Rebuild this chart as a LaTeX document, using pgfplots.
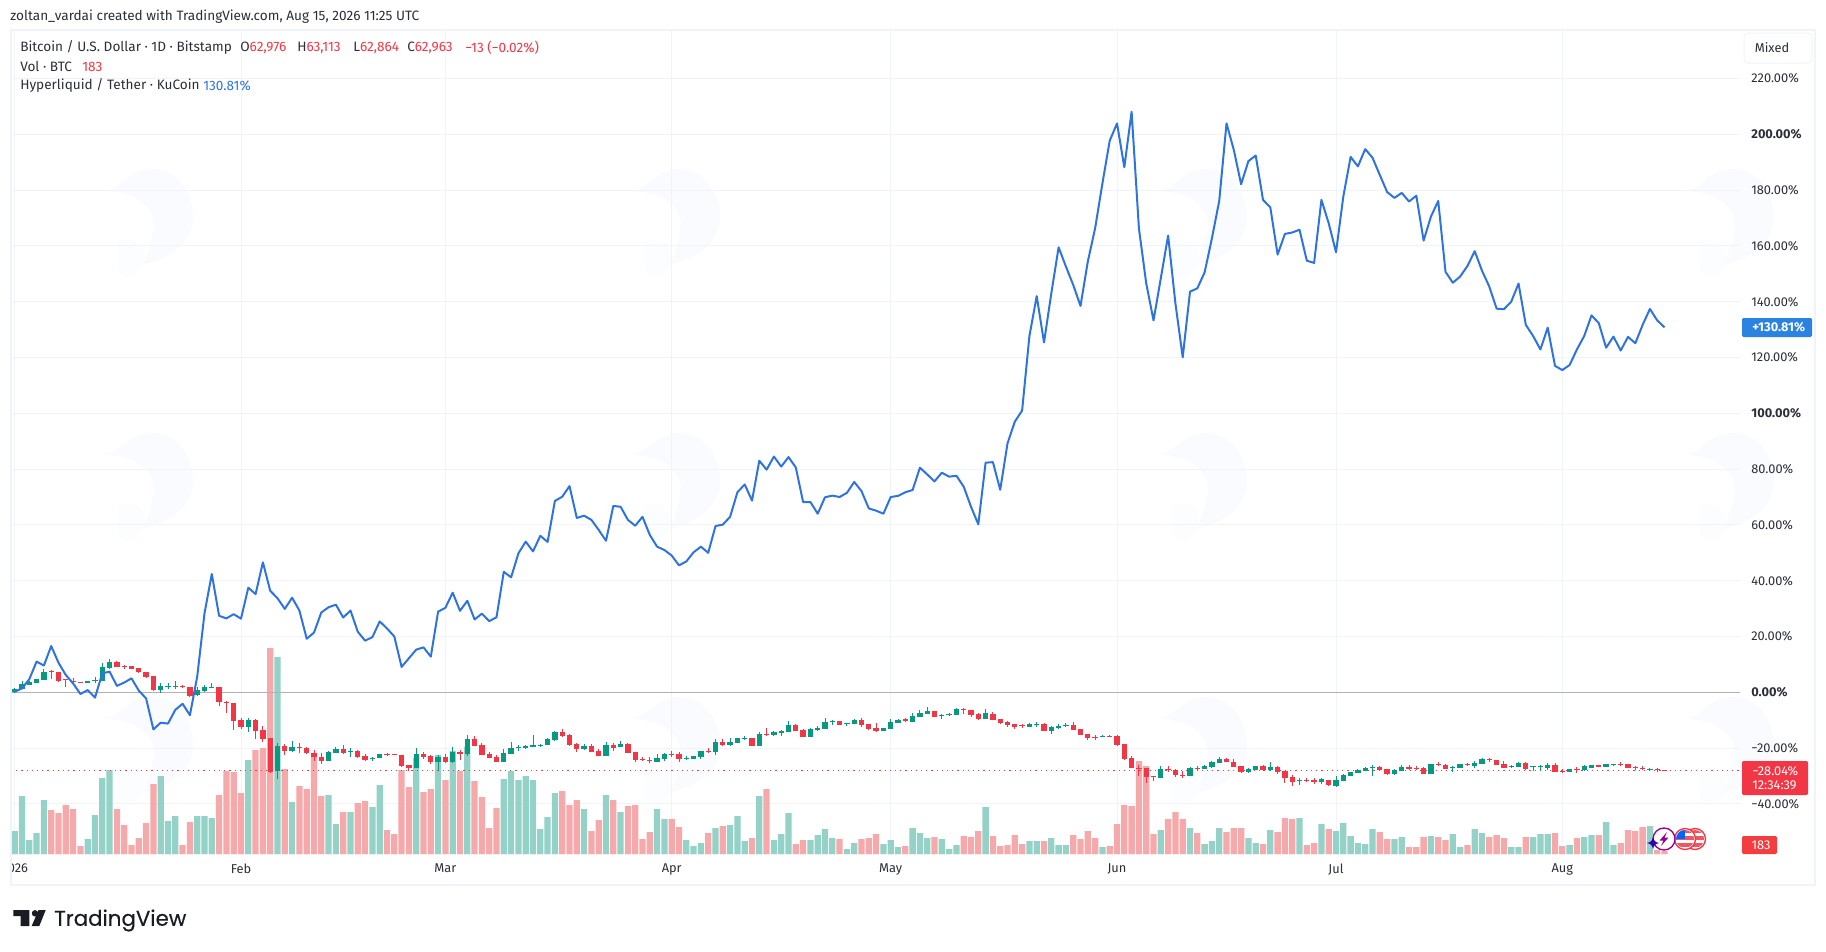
\documentclass[border=0pt]{standalone}
\usepackage{fontspec}
\setmainfont{Fira Sans}
\newfontfamily\logofont[FakeBold=0.3]{Poppins}
\usepackage{pgfplots}
\usepackage{pgfplotstable}
\pgfplotsset{compat=1.18}

\definecolor{up}{HTML}{089981}
\definecolor{down}{HTML}{F23645}
\definecolor{volup}{HTML}{94D1C7}
\definecolor{voldown}{HTML}{F6A9AB}
\definecolor{hype}{HTML}{2F74DE}
\definecolor{gridc}{HTML}{F0F3FA}
\definecolor{zerol}{HTML}{B0B2B8}
\definecolor{txt}{HTML}{2A2E39}
\definecolor{wm}{HTML}{FAFBFE}
\definecolor{wmb}{HTML}{FCFDFF}

% day 0 = 1 Jan 2026, percent change against the first open, volume in BTC
\pgfplotstableread{
d o h l c v
0 0.0 1.4 -0.1 1.3 1380
1 1.2 3.9 1.1 2.9 3480
2 2.7 4.1 2.5 3.7 840
3 3.5 4.7 3.5 4.7 1260
4 4.5 8.4 4.5 7.2 3240
5 7.8 8.0 4.7 7.5 2640
6 7.2 7.2 3.8 4.2 2460
7 4.7 4.7 2.0 4.4 2940
8 4.1 5.0 2.9 3.6 2700
9 3.6 3.6 3.5 3.5 480
10 3.2 4.1 3.2 4.1 900
11 4.1 5.6 3.2 4.4 2340
12 4.2 10.4 4.2 9.0 4560
13 8.7 11.8 8.5 11.0 5040
14 10.9 11.1 9.0 9.2 2700
15 9.6 9.8 8.2 9.3 1740
16 9.3 9.3 8.4 8.4 540
17 8.7 8.7 6.9 7.2 960
18 7.2 7.2 5.3 5.6 1860
19 5.9 5.9 0.6 1.0 4200
20 0.8 3.5 -0.1 2.3 4680
21 2.2 3.5 1.2 2.4 1980
22 2.2 4.2 1.3 2.4 2280
23 2.3 2.6 1.6 1.8 540
24 1.8 1.8 -1.6 -1.2 1920
25 -1.1 2.0 -1.2 1.0 2280
26 0.6 2.6 0.2 1.9 2280
27 1.8 3.2 1.8 2.0 2160
28 1.8 1.8 -4.8 -3.3 3540
29 -3.3 -3.1 -7.3 -3.8 4980
30 -3.9 -3.9 -13.5 -10.2 4920
31 -10.0 -9.3 -13.3 -12.4 3660
32 -12.3 -9.3 -14.3 -10.0 5640
33 -9.9 -9.7 -16.6 -13.7 6240
34 -13.6 -12.2 -17.7 -16.7 6360
35 -16.5 -16.5 -29.0 -28.6 12360
36 -28.2 -18.3 -31.2 -19.4 11820
37 -19.2 -18.5 -22.6 -20.9 5100
38 -21.0 -17.6 -21.3 -19.7 3120
39 -19.7 -18.3 -21.6 -20.0 4080
40 -20.1 -19.6 -22.2 -21.7 3900
41 -21.6 -20.8 -24.7 -23.3 5820
42 -23.3 -21.7 -25.6 -24.6 3480
43 -24.5 -20.9 -24.5 -21.5 3540
44 -21.6 -19.5 -21.6 -20.4 1800
45 -20.4 -19.0 -22.0 -21.7 2520
46 -21.3 -20.1 -23.1 -21.0 2520
47 -21.2 -20.8 -23.5 -23.2 3060
48 -22.9 -22.1 -24.5 -24.3 3180
49 -24.0 -23.2 -24.7 -23.5 2820
50 -23.7 -22.2 -23.7 -22.2 4140
51 -22.1 -21.6 -22.8 -22.3 1440
52 -22.2 -22.2 -22.6 -22.6 1200
53 -22.6 -22.6 -26.6 -26.3 5040
54 -26.1 -26.1 -28.3 -27.1 4020
55 -27.1 -20.1 -27.1 -22.2 5760
56 -22.1 -21.5 -23.8 -23.2 3720
57 -22.7 -22.3 -25.7 -25.0 3900
58 -24.9 -22.6 -27.8 -23.2 5940
59 -23.3 -22.1 -25.2 -25.0 4440
60 -25.1 -19.7 -25.5 -21.3 6180
61 -21.3 -20.7 -24.3 -22.1 4980
62 -22.1 -15.4 -22.8 -16.7 6440
63 -16.8 -15.7 -19.2 -19.1 4380
64 -18.9 -18.3 -22.5 -22.5 3420
65 -22.1 -21.4 -23.5 -23.5 1560
66 -23.3 -22.3 -25.0 -25.0 2760
67 -25.0 -20.4 -25.0 -21.7 4500
68 -22.1 -17.8 -22.1 -20.0 4980
69 -20.0 -18.8 -20.9 -19.7 4440
70 -19.8 -18.9 -20.4 -19.4 4680
71 -19.6 -15.3 -19.6 -19.0 4440
72 -19.0 -18.5 -19.7 -18.8 1500
73 -18.8 -16.4 -18.8 -16.7 2220
74 -17.2 -13.9 -17.6 -14.2 3660
75 -14.2 -13.1 -16.0 -15.7 3780
76 -15.3 -14.9 -19.2 -18.9 2940
77 -18.5 -18.3 -21.4 -20.3 3240
78 -20.3 -18.6 -20.7 -19.2 2700
79 -19.2 -18.6 -21.4 -21.3 1380
80 -20.9 -20.4 -22.8 -22.7 2040
81 -22.7 -17.8 -22.7 -19.0 3540
82 -18.9 -18.2 -20.9 -19.8 3240
83 -19.5 -17.4 -19.6 -18.6 2520
84 -18.5 -18.0 -21.9 -21.7 2880
85 -21.5 -21.5 -24.9 -24.3 2940
86 -23.8 -23.3 -24.6 -24.0 900
87 -24.1 -23.3 -25.5 -24.7 1320
88 -24.9 -22.2 -24.9 -23.5 2700
89 -23.9 -21.7 -24.5 -22.1 2100
90 -22.0 -20.9 -23.2 -22.3 2100
91 -22.1 -21.4 -24.9 -23.8 1620
92 -23.7 -22.9 -24.3 -23.4 840
93 -23.8 -22.9 -23.8 -22.9 480
94 -23.2 -21.2 -23.8 -21.2 660
95 -20.9 -19.8 -21.7 -21.2 1260
96 -21.4 -16.8 -22.3 -17.8 1560
97 -17.7 -16.8 -19.1 -18.9 1680
98 -18.9 -16.5 -19.2 -17.9 1740
99 -18.0 -16.4 -18.0 -16.4 2280
100 -16.5 -15.7 -17.1 -16.3 780
101 -16.5 -16.5 -19.1 -19.1 960
102 -19.1 -14.2 -19.1 -14.9 3480
103 -14.9 -12.9 -15.5 -15.1 3900
104 -15.2 -13.7 -15.7 -14.2 840
105 -14.6 -13.5 -15.8 -13.9 1200
106 -14.2 -10.4 -14.2 -11.7 2460
107 -11.7 -11.4 -13.7 -13.7 600
108 -13.5 -13.1 -15.9 -15.9 840
109 -15.9 -12.8 -15.9 -13.3 840
110 -13.4 -12.2 -14.0 -12.8 1140
111 -13.0 -9.2 -13.0 -10.6 1500
112 -10.3 -9.9 -11.8 -10.2 960
113 -10.4 -10.4 -11.6 -11.6 900
114 -11.4 -11.1 -11.9 -11.1 300
115 -11.2 -9.6 -11.2 -9.9 660
116 -9.8 -9.2 -12.3 -11.6 900
117 -11.4 -11.4 -13.4 -13.1 960
118 -12.9 -11.1 -14.1 -13.7 1200
119 -13.7 -12.8 -13.7 -12.8 600
120 -13.0 -9.6 -13.0 -10.6 840
121 -10.9 -9.7 -11.1 -9.9 420
122 -9.7 -9.1 -10.5 -10.2 480
123 -10.5 -7.5 -10.5 -8.5 1560
124 -8.7 -6.3 -8.7 -7.4 1260
125 -7.6 -5.4 -7.6 -6.7 960
126 -6.8 -6.8 -9.0 -8.7 1020
127 -8.2 -7.9 -9.4 -8.0 900
128 -8.2 -7.4 -8.5 -7.6 300
129 -8.0 -5.6 -8.0 -6.0 540
130 -6.0 -5.6 -7.8 -6.5 1080
131 -6.5 -6.5 -8.7 -8.1 1020
132 -7.8 -7.5 -9.9 -9.6 1380
133 -9.4 -6.0 -9.4 -7.5 2820
134 -7.6 -6.9 -9.9 -9.9 1080
135 -9.7 -9.7 -11.2 -11.0 480
136 -10.6 -10.2 -12.3 -11.7 540
137 -11.4 -11.4 -13.1 -12.5 1140
138 -11.8 -11.4 -12.8 -12.2 600
139 -12.3 -11.0 -12.4 -11.4 780
140 -11.5 -10.6 -12.3 -11.2 780
141 -11.4 -11.0 -13.9 -13.7 780
142 -13.9 -11.9 -14.8 -12.5 960
143 -12.7 -11.5 -13.1 -12.1 540
144 -11.8 -10.9 -12.3 -11.6 540
145 -11.7 -10.8 -13.5 -13.4 1140
146 -13.3 -13.3 -15.2 -15.2 900
147 -15.1 -15.1 -17.1 -16.5 1380
148 -16.0 -15.2 -17.0 -16.1 960
149 -16.1 -15.3 -16.1 -15.7 420
150 -15.7 -15.3 -15.9 -15.9 480
151 -15.8 -15.4 -19.2 -18.8 1800
152 -18.5 -18.5 -24.3 -23.8 2940
153 -23.7 -22.9 -27.0 -27.0 2880
154 -27.0 -26.1 -29.9 -27.2 5580
155 -27.1 -27.1 -32.4 -30.2 5280
156 -29.9 -29.9 -31.7 -30.1 1200
157 -30.6 -26.4 -30.6 -27.6 1440
158 -27.5 -26.5 -28.6 -27.7 2100
159 -27.8 -27.6 -30.2 -29.6 2520
160 -29.5 -28.1 -30.6 -29.8 2100
161 -29.9 -26.8 -29.9 -27.2 1560
162 -27.1 -26.4 -28.3 -27.5 1260
163 -27.4 -26.1 -27.4 -26.4 600
164 -26.8 -24.6 -27.0 -25.0 780
165 -25.2 -23.2 -25.2 -24.0 1560
166 -24.0 -23.5 -25.1 -25.1 1320
167 -25.0 -23.9 -26.6 -26.6 1560
168 -26.4 -26.4 -28.8 -28.4 1560
169 -28.4 -27.1 -28.9 -27.5 960
170 -27.8 -26.5 -27.8 -26.5 660
171 -26.4 -26.2 -28.1 -27.7 600
172 -27.7 -24.9 -28.1 -26.9 1440
173 -26.8 -26.4 -29.2 -28.4 1320
174 -28.1 -28.1 -32.4 -30.6 2160
175 -30.5 -29.5 -33.6 -32.0 2100
176 -31.5 -30.7 -33.2 -31.3 2160
177 -31.3 -30.6 -32.0 -31.5 540
178 -31.3 -30.8 -33.0 -32.3 660
179 -32.3 -30.8 -33.0 -31.2 1800
180 -31.3 -31.3 -33.6 -33.3 1500
181 -33.6 -30.1 -33.8 -31.5 1380
182 -31.7 -29.2 -31.7 -29.6 1860
183 -30.0 -28.7 -30.0 -28.7 1080
184 -28.8 -27.6 -29.0 -27.8 660
185 -28.1 -26.9 -28.3 -27.1 600
186 -27.2 -25.9 -30.0 -26.8 1500
187 -26.8 -26.4 -28.0 -27.7 1320
188 -27.6 -27.6 -29.5 -29.3 900
189 -29.3 -27.6 -29.6 -27.8 900
190 -28.1 -26.2 -28.1 -26.6 1020
191 -26.6 -25.9 -27.7 -27.5 420
192 -27.0 -26.5 -28.0 -27.2 420
193 -27.1 -26.6 -29.3 -29.3 1020
194 -29.3 -25.7 -29.3 -25.7 1080
195 -25.6 -24.9 -26.4 -25.8 1020
196 -25.9 -25.6 -27.6 -27.5 840
197 -26.9 -26.5 -28.6 -26.6 1200
198 -27.0 -25.7 -27.0 -25.7 420
199 -25.8 -25.5 -26.4 -25.9 540
200 -26.4 -24.5 -27.1 -25.2 1500
201 -25.6 -23.5 -25.6 -23.8 1260
202 -23.9 -23.5 -25.0 -24.4 1020
203 -24.3 -24.3 -26.1 -26.1 1140
204 -25.8 -24.6 -27.2 -27.1 960
205 -26.8 -26.2 -27.2 -26.5 420
206 -26.6 -25.0 -26.9 -25.2 420
207 -25.2 -25.0 -27.7 -27.5 1020
208 -26.8 -26.4 -28.1 -26.5 1020
209 -26.8 -26.2 -28.0 -26.5 1200
210 -27.2 -25.5 -27.7 -26.1 1200
211 -26.2 -25.3 -28.4 -28.4 1260
212 -28.1 -27.6 -28.9 -28.3 480
213 -28.6 -27.4 -28.6 -27.4 540
214 -27.4 -26.9 -28.9 -27.6 960
215 -27.8 -26.1 -28.1 -26.5 1020
216 -27.0 -25.9 -27.0 -25.9 1140
217 -26.1 -26.1 -26.6 -26.6 1140
218 -26.8 -25.7 -26.8 -25.7 1920
219 -26.1 -25.6 -26.4 -25.8 540
220 -25.8 -25.0 -26.4 -26.1 660
221 -25.7 -25.7 -27.1 -27.1 1440
222 -26.8 -26.4 -28.0 -27.2 1380
223 -27.0 -26.4 -28.0 -27.2 1620
224 -27.7 -27.0 -28.2 -27.5 1680
225 -27.5 -27.2 -28.4 -28.0 240
226 -27.9 -27.8 -28.1 -28.04 183
}\candles

% Hyperliquid / Tether, percent change
\pgfplotstableread{
d p
0 0.2
1 1.4
2 4.7
3 11.0
4 9.6
5 16.6
6 10.6
7 6.2
8 3.2
9 -0.6
10 0.8
11 -1.9
12 6.8
13 7.4
14 2.3
15 3.5
16 5.0
17 0.6
18 -2.2
19 -13.3
20 -10.9
21 -11.2
22 -6.3
23 -4.1
24 -8.2
25 5.6
26 28.3
27 42.4
28 27.4
29 26.5
30 28.0
31 26.4
32 37.5
33 35.2
34 46.6
35 36.4
36 33.7
37 29.9
38 33.9
39 29.3
40 19.2
41 21.4
42 28.6
43 30.5
44 31.4
45 26.8
46 29.3
47 21.7
48 18.5
49 19.8
50 25.4
51 22.9
52 20.0
53 9.1
54 12.2
55 15.3
56 16.1
57 12.8
58 28.9
59 30.3
60 35.7
61 29.2
62 32.8
63 26.1
64 28.2
65 25.5
66 26.9
67 43.2
68 41.2
69 49.8
70 54.0
71 50.5
72 56.1
73 53.9
74 68.6
75 70.1
76 73.9
77 62.5
78 63.3
79 61.8
80 58.2
81 54.3
82 66.8
83 66.5
84 61.8
85 59.7
86 62.9
87 56.4
88 52.2
89 51.0
90 49.0
91 45.5
92 46.9
93 50.2
94 52.2
95 50.0
96 59.6
97 60.1
98 62.9
99 71.7
100 74.5
101 68.7
102 83.0
103 79.8
104 84.5
105 80.9
106 84.3
107 80.6
108 68.2
109 68.2
110 64.0
111 69.9
112 70.5
113 70.0
114 71.5
115 75.4
116 72.1
117 65.9
118 65.1
119 64.0
120 70.0
121 70.4
122 71.7
123 72.5
124 80.5
125 78.1
126 75.6
127 78.7
128 77.3
129 77.6
130 73.7
131 66.5
132 60.2
133 82.3
134 82.5
135 72.6
136 89.2
137 97.0
138 101
139 127.7
140 142.0
141 125.4
142 143
143 159.5
144 152.6
145 146.0
146 138.5
147 154.4
148 166.3
149 182.4
150 197.7
151 203.9
152 188.2
153 208.1
154 166.3
155 146.6
156 133.3
157 148.4
158 163.7
159 139.4
160 120.1
161 143.6
162 144.8
163 150.5
164 162.7
165 176.1
166 203.9
167 194.4
168 182.1
169 190.4
170 192.4
171 176.5
172 173.8
173 156.9
174 164.3
175 164.8
176 165.8
177 154.7
178 153.9
179 176.5
180 168.1
181 157.7
182 177.7
183 191.9
184 188.5
185 194.7
186 191.6
187 185.4
188 179.3
189 177.2
190 179.0
191 175.9
192 178.0
193 161.9
194 170.5
195 176.1
196 150.7
197 146.8
198 149.0
199 152.8
200 158.1
201 151.1
202 145.4
203 137.5
204 137.3
205 140.0
206 146.5
207 131.7
208 127.7
209 122.9
210 130.7
211 117.0
212 115.5
213 117.3
214 122.9
215 127.7
216 135.1
217 132.3
218 123.5
219 127.5
220 122.5
221 127.4
222 125.1
223 131.7
224 137.4
225 133.3
226 130.81
}\hype

\pgfplotsset{
  pane/.style={
    at={(8.25pt,-640.5pt)}, anchor=south west,
    scale only axis, width=1296.75pt, height=618pt,
    xmin=-0.507, xmax=236.34
  },
  candle/.style 2 args={
    draw=none, mark=none, forget plot,
    error bars/y dir=plus, error bars/y explicit, error bars/error mark=none,
    error bars/error bar style={line width=#1, draw=#2}
  }
}
\newcommand{\lgd}{\fontsize{10.2pt}{12pt}\selectfont}

\begin{document}
\begin{tikzpicture}[font=\fontsize{9.6pt}{11pt}\selectfont, text=txt]
\path[use as bounding box] (0,0) rectangle (1369.5pt,-713.25pt);

% watermarks behind everything
\begin{scope}[x=0.75pt,y=-0.75pt]
\foreach \cx in {148,675,1202,1729} \foreach \cy in {213,477,741} {
  \begin{scope}[shift={(\cx,\cy)}]
    \fill[wm] (-45,-22) .. controls (-25,-24) and (-22,-44) .. (5,-44)
      .. controls (32,-44) and (47,-15) .. (45,8)
      .. controls (42,35) and (15,47) .. (-5,52) .. controls (3,30) and (8,15) .. (5,5)
      .. controls (0,-12) and (-20,-22) .. (-45,-22) -- cycle;
    \fill[wmb] (-30,28) .. controls (-5,22) and (0,40) .. (-5,52)
      .. controls (-15,70) and (-28,65) .. (-30,55) -- cycle;
  \end{scope}
}
\end{scope}

% grid and scales
\begin{axis}[pane,
  ymin=-57.96, ymax=237.38,
  axis line style={draw=none},
  major tick length=0pt,
  xtick={0,31,59,90,120,151,181,212},
  xticklabels={2026,Feb,Mar,Apr,May,Jun,Jul,Aug},
  xticklabel style={font=\fontsize{9.6pt}{11pt}\selectfont, text=txt, yshift=-4pt},
  ytick={-40,-20,0,20,40,60,80,100,120,140,160,180,200,220},
  yticklabels={−40.00\%,−20.00\%,\textbf{0.00\%},20.00\%,40.00\%,60.00\%,80.00\%,\textbf{100.00\%},120.00\%,140.00\%,160.00\%,180.00\%,\textbf{200.00\%},220.00\%},
  yticklabel pos=right,
  yticklabel style={font=\fontsize{9.6pt}{11pt}\selectfont, text=txt, anchor=west, xshift=5pt},
  grid=major, grid style={color=gridc, line width=0.75pt}
]
\end{axis}

% volume
\begin{axis}[pane, hide axis, ymin=0, ymax=49440,
  ybar, bar width=4.7pt, bar shift=0pt]
\addplot[fill=volup, draw=none, forget plot] table[x=d, y expr={ifthenelse(\thisrow{c}>=\thisrow{o},\thisrow{v},0)}] {\candles};
\addplot[fill=voldown, draw=none, forget plot] table[x=d, y expr={ifthenelse(\thisrow{c}<\thisrow{o},\thisrow{v},0)}] {\candles};
\end{axis}

% price and the comparison line
\begin{axis}[pane, hide axis, ymin=-57.96, ymax=237.38]
\addplot[zerol, line width=1.2pt, forget plot] coordinates {(-0.507,0) (236.34,0)};
\addplot[down, line width=0.8pt, dash pattern=on 0.9pt off 3pt, forget plot] coordinates {(-0.507,-28.04) (236.34,-28.04)};
\addplot[candle={0.75pt}{up}] table[x=d, y=l, y error plus expr={ifthenelse(\thisrow{c}>=\thisrow{o},\thisrow{h}-\thisrow{l},0)}] {\candles};
\addplot[candle={0.75pt}{down}] table[x=d, y=l, y error plus expr={ifthenelse(\thisrow{c}<\thisrow{o},\thisrow{h}-\thisrow{l},0)}] {\candles};
\addplot[candle={4pt}{up}] table[x=d, y=o, y error plus expr={ifthenelse(\thisrow{c}>=\thisrow{o},\thisrow{c}-\thisrow{o},0)}] {\candles};
\addplot[candle={4pt}{down}] table[x=d, y=c, y error plus expr={ifthenelse(\thisrow{c}<\thisrow{o},\thisrow{o}-\thisrow{c},0)}] {\candles};
\addplot[hype, line width=1.5pt, line join=round] table[x=d, y=p] {\hype};
\end{axis}

% chrome, in reference pixels
\begin{scope}[x=0.75pt,y=-0.75pt]
\fill[white] (0,840) rectangle (11,880);
\draw[gridc, line width=1.2pt] (11,30) rectangle (1815,885);
\node[anchor=west, inner sep=0pt, font=\lgd] at (10,17) {zoltan\_vardai created with TradingView.com, Aug 15, 2026 11:25 UTC};
\node[anchor=west, inner sep=0pt, font=\lgd] at (20,47.5) {Bitcoin / U.S. Dollar · 1D · Bitstamp};
\node[anchor=west, inner sep=0pt, font=\lgd] at (240,47.5) {O\textcolor{down}{62,976}};
\node[anchor=west, inner sep=0pt, font=\lgd] at (297,47.5) {H\textcolor{down}{63,113}};
\node[anchor=west, inner sep=0pt, font=\lgd] at (353,47.5) {L\textcolor{down}{62,864}};
\node[anchor=west, inner sep=0pt, font=\lgd] at (407,47.5) {C\textcolor{down}{62,963}};
\node[anchor=west, inner sep=0pt, font=\lgd] at (465,47.5) {\textcolor{down}{−13 (−0.02\%)}};
\node[anchor=west, inner sep=0pt, font=\lgd] at (20,66.5) {Vol · BTC};
\node[anchor=west, inner sep=0pt, font=\lgd] at (82,66.5) {\textcolor{down}{183}};
\node[anchor=west, inner sep=0pt, font=\lgd] at (20,85.5) {Hyperliquid / Tether · KuCoin};
\node[anchor=west, inner sep=0pt, font=\lgd] at (203,85.5) {\textcolor{hype}{130.81\%}};
\draw[gridc, fill=white, rounded corners=3pt, line width=0.75pt] (1744,33) rectangle (1812,63);
\node at (1772,48) {Mixed};
% last value labels
\fill[hype!90!cyan, rounded corners=1pt] (1742,318) rectangle (1812,337);
\node[text=white, anchor=west, inner sep=0pt] at (1752,327.5) {\textbf{+130.81\%}};
\fill[down, rounded corners=1pt] (1742,761) rectangle (1808,795);
\node[text=white, anchor=west, inner sep=0pt] at (1752,771) {−28.04\%};
\node[text=white, anchor=west, inner sep=0pt] at (1752,785.5) {12:34:39};
\fill[down!90!orange, rounded corners=1pt] (1742,836) rectangle (1777,854);
\node[text=white, inner sep=0pt] at (1761,845.5) {183};
% news and event badges
\draw[down, fill=white, line width=1pt] (1695,839) circle (10.5);
\begin{scope}
  \clip (1695,839) circle (9);
  \foreach \yy in {829,836,843} \fill[down!85!white] (1685,\yy) rectangle (1705,\yy+3.5);
\end{scope}
\draw[down, fill=white, line width=1pt] (1685,839) circle (10.5);
\begin{scope}
  \clip (1685,839) circle (9);
  \foreach \yy in {829,836,843} \fill[down!85!white] (1675,\yy) rectangle (1695,\yy+3.5);
  \fill[blue!60!cyan] (1676,830) rectangle (1685,839);
\end{scope}
\draw[violet!85!magenta, fill=white, line width=1pt] (1664,839) circle (11);
\fill[violet!85!magenta] (1667,832) -- (1659.5,840.5) -- (1663.5,840.5) -- (1661,846) -- (1668.5,837.5) -- (1664.5,837.5) -- cycle;
\fill[blue!55!violet!90!black] (1653,837) .. controls (1654,841) and (1655,842) .. (1659,843)
  .. controls (1655,844) and (1654,845) .. (1653,849) .. controls (1652,845) and (1651,844) .. (1647,843)
  .. controls (1651,842) and (1652,841) .. (1653,837) -- cycle;
% logo
\fill[txt!60!black] (13.3,910) -- (29.3,910) -- (29.3,926) -- (20.7,926) -- (20.7,916) -- (13.3,916) -- cycle;
\fill[txt!60!black] (35,913.3) circle (3.2);
\fill[txt!60!black] (38.5,910) -- (45.7,910) -- (39.3,926) -- (31.7,926) -- cycle;
\node[anchor=west, inner sep=0pt, text=txt!60!black] at (54,920.5) {\logofont\fontsize{16pt}{18pt}\selectfont TradingView};
\end{scope}
\end{tikzpicture}
\end{document}
